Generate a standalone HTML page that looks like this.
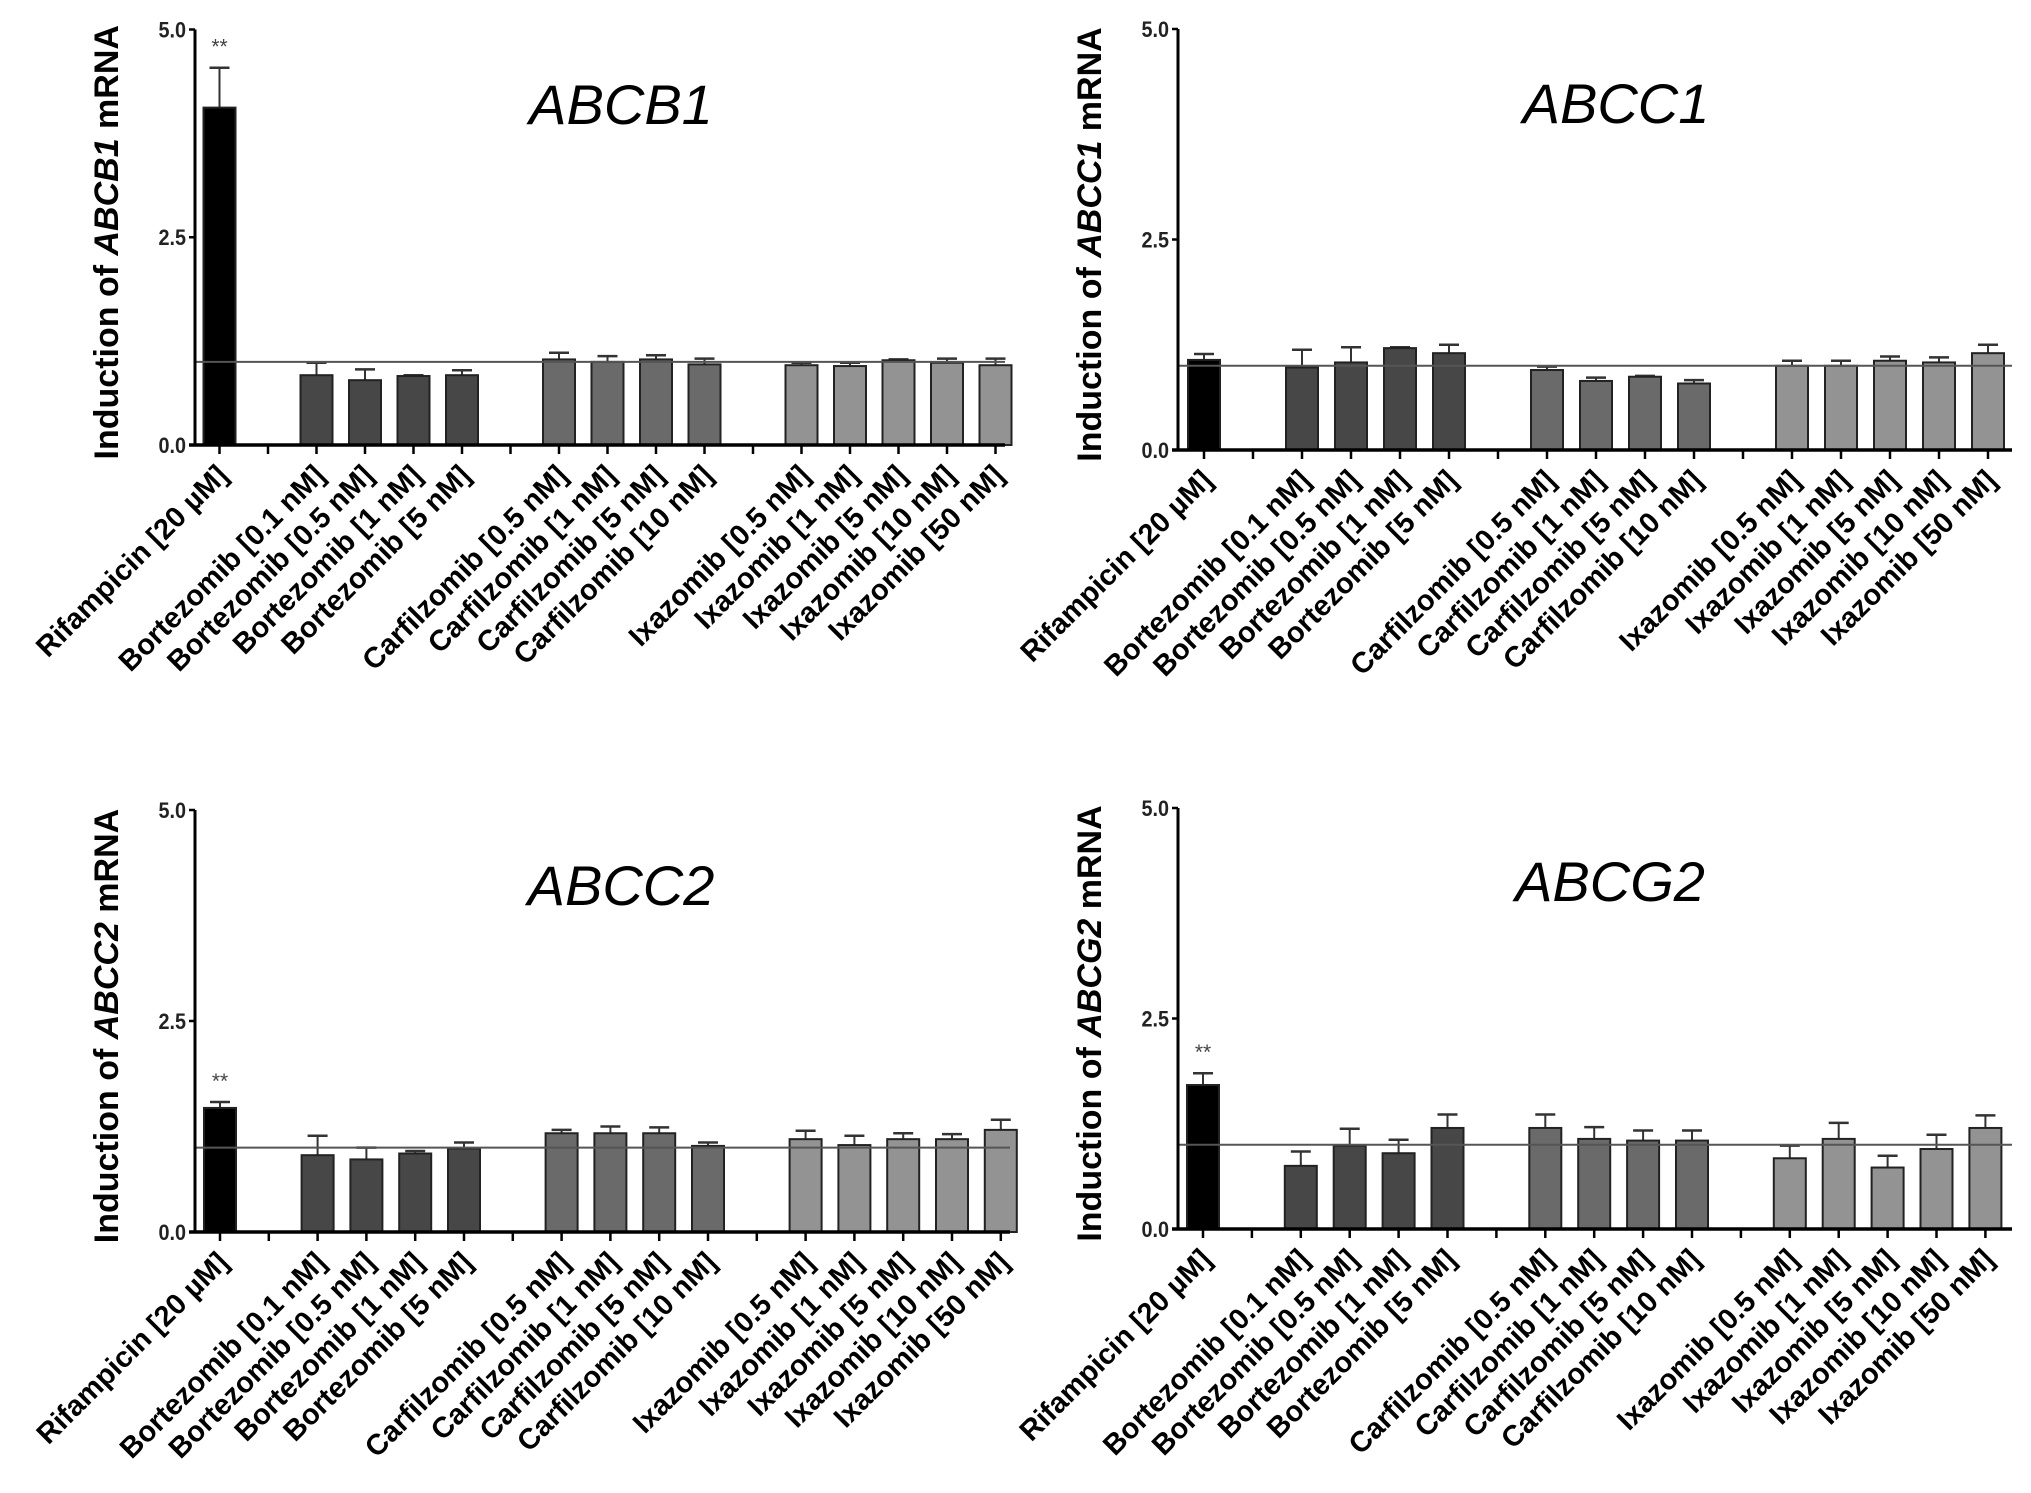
<!DOCTYPE html>
<html><head><meta charset="utf-8"><style>
html,body{margin:0;padding:0;background:#fff;}
svg{display:block;font-family:"Liberation Sans",Arial,sans-serif;}
</style></head><body>
<svg id="fig" width="2031" height="1493" viewBox="0 0 2031 1493"></svg>
<script>
const categories = ["Rifampicin [20 µM]","","Bortezomib [0.1 nM]","Bortezomib [0.5 nM]","Bortezomib [1 nM]","Bortezomib [5 nM]","","Carfilzomib [0.5 nM]","Carfilzomib [1 nM]","Carfilzomib [5 nM]","Carfilzomib [10 nM]","","Ixazomib [0.5 nM]","Ixazomib [1 nM]","Ixazomib [5 nM]","Ixazomib [10 nM]","Ixazomib [50 nM]"];
const groups = ["rif",null,"bor","bor","bor","bor",null,"car","car","car","car",null,"ixa","ixa","ixa","ixa","ixa"];
const yTicks = [0, 2.5, 5];
const yTickLabels = ["0.0","2.5","5.0"];
const genes = ["ABCB1","ABCC1","ABCC2","ABCG2"];
const abcb1Values = [4.06,null,0.84,0.78,0.83,0.84,null,1.03,1.00,1.03,0.97,null,0.96,0.95,1.02,0.99,0.96];
const abcb1Errors = [0.48,null,0.15,0.13,0.01,0.06,null,0.08,0.07,0.05,0.07,null,0.03,0.04,0.01,0.05,0.08];
const abcc1Values = [1.07,null,0.98,1.04,1.21,1.15,null,0.95,0.82,0.87,0.79,null,1.00,1.00,1.06,1.04,1.15];
const abcc1Errors = [0.07,null,0.21,0.18,0.01,0.10,null,0.04,0.04,0.01,0.04,null,0.06,0.06,0.05,0.06,0.10];
const abcc2Values = [1.47,null,0.91,0.86,0.93,0.99,null,1.17,1.17,1.17,1.02,null,1.10,1.03,1.10,1.10,1.21];
const abcc2Errors = [0.07,null,0.23,0.14,0.03,0.07,null,0.04,0.08,0.07,0.04,null,0.10,0.11,0.07,0.06,0.12];
const abcg2Values = [1.71,null,0.75,0.99,0.90,1.20,null,1.20,1.07,1.05,1.05,null,0.84,1.07,0.73,0.95,1.20];
const abcg2Errors = [0.14,null,0.17,0.20,0.16,0.16,null,0.16,0.14,0.12,0.12,null,0.15,0.19,0.14,0.17,0.15];
const significance = ["**","","**","**"];

const fills = {rif:"#000000",bor:"#474747",car:"#6a6a6a",ixa:"#939393"};
const NS = "http://www.w3.org/2000/svg";
const svg = document.getElementById('fig');
function el(tag, attrs, parent){const e=document.createElementNS(NS,tag);for(const k in attrs)e.setAttribute(k,attrs[k]);(parent||svg).appendChild(e);return e;}

const panels = [
 {ax:195,y0:445,y5:29.5,slot0:219.5,step:48.5,xEnd:1005,tx:621,ty:124,vals:abcb1Values,errs:abcb1Errors},
 {ax:1178,y0:450,y5:29,slot0:1204,step:49,xEnd:2012,tx:1616,ty:123,vals:abcc1Values,errs:abcc1Errors},
 {ax:195,y0:1232,y5:810,slot0:220,step:48.8,xEnd:1010,tx:621,ty:905,vals:abcc2Values,errs:abcc2Errors},
 {ax:1178,y0:1229,y5:808,slot0:1203,step:48.9,xEnd:2012,tx:1610,ty:901,vals:abcg2Values,errs:abcg2Errors}
];

panels.forEach((p,pi)=>{
  const g = el('g',{});
  
  
  const yS = v => p.y0 - (p.y0-p.y5)*v/5;
  const xS = i => p.slot0 + p.step*i;
  const t = el('text',{x:p.tx,y:p.ty,'text-anchor':'middle','font-size':56,'font-style':'italic',fill:'#000'},g);
  t.textContent = genes[pi];
  
  
  const cy = (p.y0+p.y5)/2 + 5;
  const yt = el('text',{x:0,y:0,transform:`translate(${p.ax-77},${cy}) rotate(-90)`,'text-anchor':'middle','font-size':34,'font-weight':'bold',fill:'#000'},g);
  
  
  const s1=el('tspan',{},yt); s1.textContent='Induction of ';
  const s2=el('tspan',{'font-style':'italic'},yt); s2.textContent=genes[pi];
  const s3=el('tspan',{},yt); s3.textContent=' mRNA';
  p.vals.forEach((v,i)=>{
    if(v===null) return;
    const cx = xS(i), w = 32;
    const e = p.errs[i];
    const ln = el('line',{x1:cx,x2:cx,y1:yS(v),y2:yS(v+e),stroke:'#333','stroke-width':2},g);
    
    
    const cap = el('line',{x1:cx-10,x2:cx+10,y1:yS(v+e),y2:yS(v+e),stroke:'#333','stroke-width':2.5},g);
    
    
    const r = el('rect',{x:cx-w/2,y:yS(v),width:w,height:p.y0-yS(v),fill:fills[groups[i]],stroke:'#222','stroke-width':2},g);
    
    
  });
  if(significance[pi]){
    const s = el('text',{x:xS(0),y:yS(p.vals[0]+p.errs[0])-14,'text-anchor':'middle','font-size':21,fill:'#444'},g);
    s.textContent = significance[pi];
    
    
  }
  const ref = el('line',{x1:p.ax,x2:p.xEnd,y1:yS(1),y2:yS(1),stroke:'#555','stroke-width':2},g);
  
  
  const ya = el('line',{x1:p.ax,x2:p.ax,y1:p.y5,y2:p.y0+1.5,stroke:'#000','stroke-width':3},g);
  
  
  const xa = el('line',{x1:p.ax-6,x2:p.xEnd,y1:p.y0,y2:p.y0,stroke:'#000','stroke-width':3.5},g);
  
  
  yTicks.forEach((v,k)=>{
    const tk = el('line',{x1:p.ax-6,x2:p.ax,y1:yS(v),y2:yS(v),stroke:'#000','stroke-width':2.5},g);
    
    
    const tl = el('text',{x:p.ax-9,y:yS(v)+8,'text-anchor':'end','font-size':22,'font-weight':'bold',fill:'#222',transform:`translate(${(p.ax-9)*0.1},0) scale(0.9,1)`},g);
    tl.textContent = yTickLabels[k];
    
    
  });
  categories.forEach((c,i)=>{
    const cx = xS(i);
    const tk = el('line',{x1:cx,x2:cx,y1:p.y0,y2:p.y0+9,stroke:'#000','stroke-width':2.5},g);
    
    
    if(!c) return;
    const lb = el('text',{x:0,y:0,transform:`translate(${cx+10},${p.y0+32}) rotate(-45)`,'text-anchor':'end','font-size':29,'font-weight':'bold',fill:'#000'},g);
    lb.textContent = c;
    
    
  });
});
</script>
</body></html>
